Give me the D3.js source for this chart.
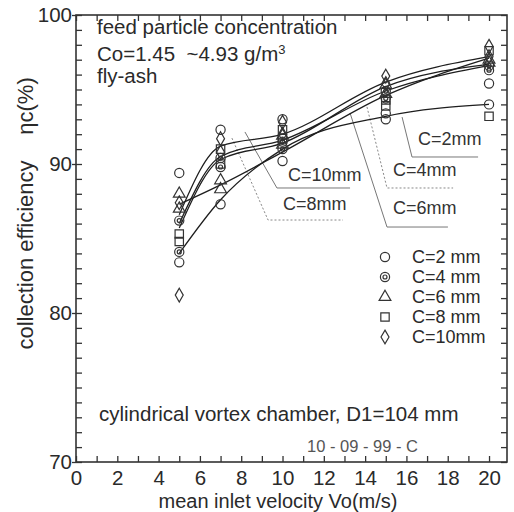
<!DOCTYPE html>
<html><head><meta charset="utf-8">
<script src="https://cdn.jsdelivr.net/npm/d3@7"></script>
<style>
html,body{margin:0;padding:0;background:#fff;}
svg{display:block;font-family:"Liberation Sans",Arial,sans-serif;}
</style></head>
<body>
<svg id="c" width="514" height="512"></svg>
<script>
// ---- data ----
const velocities = [5, 7, 10, 15, 20];
const seriesNames = ["C=2 mm", "C=4 mm", "C=6 mm", "C=8 mm", "C=10mm"];
const seriesSymbols = ["circle", "dotcircle", "triangle", "square", "diamond"];
// fitted curves (collection efficiency %, per velocity)
const fitC2 = [84.0, 87.6, 91.0, 93.2, 94.0];
const fitC4 = [86.0, 90.5, 91.6, 94.9, 96.6];
const fitC6 = [87.3, 88.6, 90.8, 94.6, 97.1];
const fitC8 = [85.7, 90.3, 91.4, 95.2, 96.7];
const fitC10 = [86.6, 91.2, 92.0, 95.5, 97.2];
// measured points (several runs per velocity)
const obsC2 = [[89.4, 83.4], [92.3, 87.3], [90.2, 93.0], [93.0, 93.4], [95.4, 94.0]];
const obsC4 = [[86.2, 84.1], [90.4, 89.8], [91.5, 91.0], [94.9, 94.4], [96.6, 96.3]];
const obsC6 = [[88.0, 87.0], [88.9, 88.3], [91.9, 91.3], [95.3, 94.7], [97.0, 96.8]];
const obsC8 = [[85.3, 84.8], [90.0, 91.0], [92.3, 91.7], [94.3, 93.9], [97.6, 93.2]];
const obsC10 = [[87.4, 81.2], [91.7, 90.8], [92.8, 92.0], [95.9, 95.4], [97.9, 97.2]];
const xTickLabels = [0, 2, 4, 6, 8, 10, 12, 14, 16, 18, 20];
const yTickLabels = [70, 80, 90, 100];
// curve labels with leader lines (data units)
const calloutText = ["C=2mm", "C=4mm", "C=6mm", "C=10mm", "C=8mm"];
const calloutPath = [
  [[15.79, 93.15], [16.27, 90.47], [19.47, 90.47]],
  [[14.09, 93.83], [15.06, 88.39], [18.26, 88.39]],
  [[13.27, 93.42], [15.06, 85.77], [18.01, 85.77]],
  [[8.18, 92.15], [9.73, 88.39], [13.27, 88.39]],
  [[7.55, 91.74], [9.30, 86.24], [12.93, 86.24]]
];
const calloutAnchor = [[16.56, 91.28], [15.35, 89.19], [15.35, 86.64], [10.27, 88.86], [10.02, 86.91]];
const calloutDash = [false, true, false, false, true];

// ---- chart ----
const fits = [fitC2, fitC4, fitC6, fitC8, fitC10];
const obs = [obsC2, obsC4, obsC6, obsC8, obsC10];
const svg = d3.select("#c");
const L = 76, R = 507, T = 15, B = 462;
const x = d3.scaleLinear().domain([0, 20.87]).range([L, R]);
const y = d3.scaleLinear().domain([70, 100]).range([B, T]);
const ink = "#2a2a2a";

// frame
svg.append("rect").attr("x", L).attr("y", T).attr("width", R - L).attr("height", B - T)
  .attr("fill", "none").attr("stroke", "#333").attr("stroke-width", 1.6);

function styleAxis(g) {
  g.select(".domain").remove();
  g.selectAll(".tick line").attr("stroke", "#333").attr("stroke-width", 1.3);
  g.selectAll("text").attr("fill", ink).attr("font-size", 20.5).attr("font-family", "Liberation Sans, Arial, sans-serif");
}
const minorX = d3.range(0, 21, 1);
const minorY = d3.range(70, 101, 1);
svg.append("g").attr("transform", `translate(0,${B})`)
  .call(d3.axisBottom(x).tickValues(minorX).tickSize(-6).tickFormat("")).call(styleAxis);
svg.append("g").attr("transform", `translate(0,${T})`)
  .call(d3.axisTop(x).tickValues(minorX).tickSize(-6).tickFormat("")).call(styleAxis);
svg.append("g").attr("transform", `translate(${L},0)`)
  .call(d3.axisLeft(y).tickValues(minorY).tickSize(-6).tickFormat("")).call(styleAxis);
svg.append("g").attr("transform", `translate(${R},0)`)
  .call(d3.axisRight(y).tickValues(minorY).tickSize(-6).tickFormat("")).call(styleAxis);
// labels
svg.append("g").attr("transform", `translate(0,${B})`)
  .call(d3.axisBottom(x).tickValues(xTickLabels).tickSize(0).tickPadding(8)).call(styleAxis);
svg.append("g").attr("transform", `translate(${L},0)`)
  .call(d3.axisLeft(y).tickValues(yTickLabels).tickSize(4).tickPadding(0)).call(styleAxis);

// axis titles
svg.append("text").attr("x", 278).attr("y", 508).attr("text-anchor", "middle")
  .attr("font-size", 20).attr("fill", ink).text("mean inlet velocity Vo(m/s)");
svg.append("text").attr("transform", "translate(33,255) rotate(-90)").attr("text-anchor", "middle")
  .attr("font-size", 22).attr("fill", ink).text("collection efficiency");
svg.append("text").attr("transform", "translate(33,106) rotate(-90)").attr("text-anchor", "middle")
  .attr("font-size", 22).attr("fill", ink).text("ηc(%)");

// annotations
const ann = svg.append("g").attr("font-size", 20.5).attr("fill", ink);
ann.append("text").attr("x", 97).attr("y", 34).text("feed particle concentration");
const co = ann.append("text").attr("x", 97).attr("y", 61);
co.append("tspan").text("Co=1.45\u00a0\u00a0~4.93 g/m");
co.append("tspan").attr("dy", -7).attr("font-size", 13).text("3");
ann.append("text").attr("x", 97).attr("y", 83).text("fly-ash");
ann.append("text").attr("x", 99).attr("y", 421).text("cylindrical vortex chamber, D1=104 mm");
svg.append("text").attr("x", 307).attr("y", 452).attr("font-size", 16.5).attr("fill", "#555")
  .text("10 - 09 - 99 - C");

// callouts
const lineGen = d3.line().x(d => x(d[0])).y(d => y(d[1]));
calloutPath.forEach((p, i) => {
  svg.append("path").attr("d", lineGen(p)).attr("fill", "none")
    .attr("stroke", calloutDash[i] ? "#888" : "#777").attr("stroke-width", 1)
    .attr("stroke-dasharray", calloutDash[i] ? "2,2" : null);
  svg.append("text").attr("x", x(calloutAnchor[i][0])).attr("y", y(calloutAnchor[i][1]))
    .attr("font-size", 18).attr("fill", "#333").text(calloutText[i]);
});

// curves
const curveGen = d3.line().x((d, i) => x(velocities[i])).y(d => y(d)).curve(d3.curveMonotoneX);
fits.forEach(f => {
  svg.append("path").attr("d", curveGen(f)).attr("fill", "none")
    .attr("stroke", "#1e1e1e").attr("stroke-width", 1.3);
});

// symbols
function drawSymbol(g, type, cx, cy) {
  const s = {stroke: "#333", "stroke-width": 1.2, fill: "none"};
  let el;
  if (type === "circle" || type === "dotcircle") {
    el = g.append("circle").attr("cx", cx).attr("cy", cy).attr("r", 4.6);
    if (type === "dotcircle") {
      const inner = g.append("circle").attr("cx", cx).attr("cy", cy).attr("r", 2);
      Object.entries(s).forEach(([k, v]) => inner.attr(k, v));
    }
  } else {
    const map = {triangle: d3.symbolTriangle, square: d3.symbolSquare, diamond: d3.symbolDiamond};
    const size = {triangle: 60, square: 70, diamond: 55}[type];
    el = g.append("path").attr("d", d3.symbol(map[type], size)())
      .attr("transform", `translate(${cx},${cy})`);
  }
  Object.entries(s).forEach(([k, v]) => el.attr(k, v));
}
const pg = svg.append("g");
obs.forEach((ser, si) => {
  ser.forEach((vals, vi) => {
    vals.forEach(v => drawSymbol(pg, seriesSymbols[si], x(velocities[vi]), y(v)));
  });
});

// legend
const lg = svg.append("g");
seriesNames.forEach((n, i) => {
  const cy = 257 + i * 20;
  drawSymbol(lg, seriesSymbols[i], 385, cy);
  lg.append("text").attr("x", 412).attr("y", cy).attr("dy", "0.35em")
    .attr("font-size", 18).attr("fill", ink).text(n);
});
</script>
</body></html>
